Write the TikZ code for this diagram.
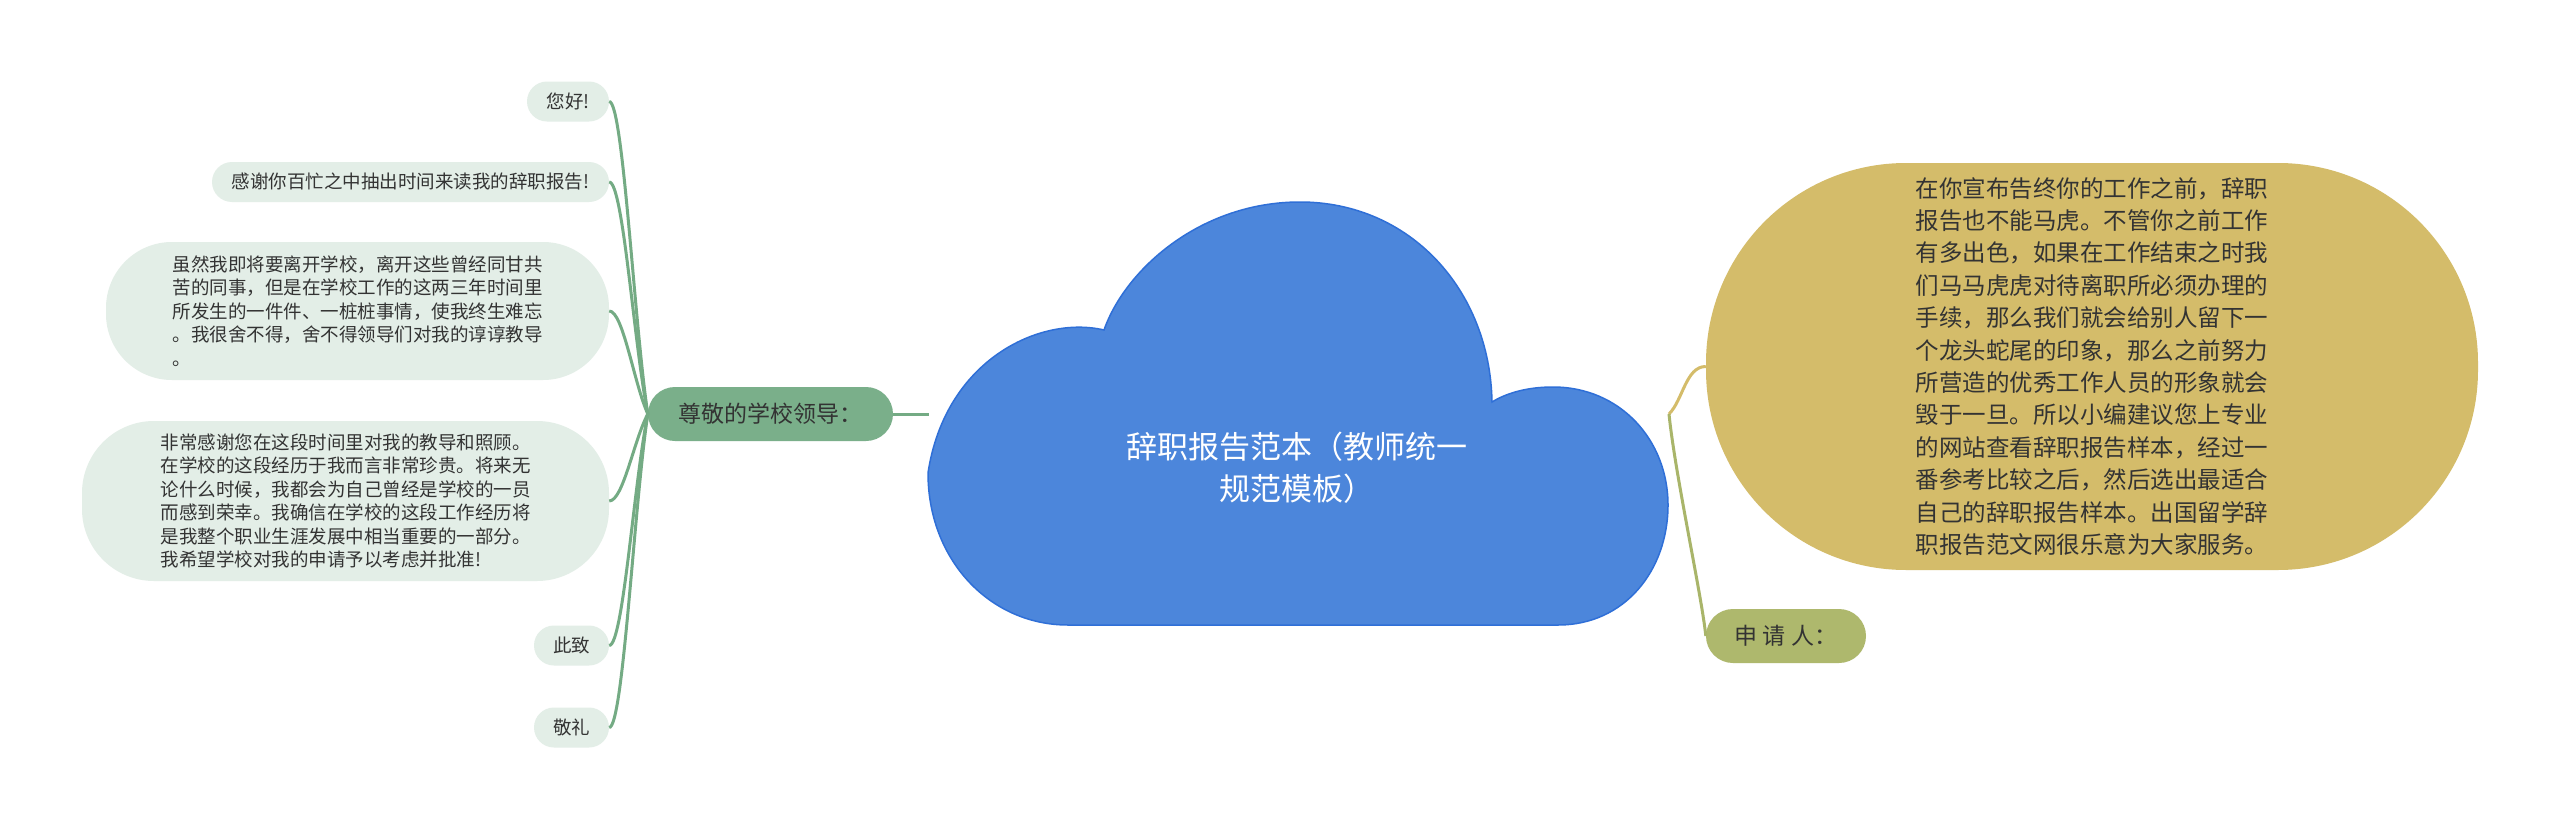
\documentclass[tikz,border=0pt]{standalone}
\usepackage{fontspec}
\setmainfont{Noto Sans CJK SC}
\definecolor{leafbg}{HTML}{E3EEE7}
\definecolor{branchgreen}{HTML}{7AAF8A}
\definecolor{linegreen}{HTML}{74AB84}
\definecolor{goldbg}{HTML}{D4BC6A}
\definecolor{olivebg}{HTML}{AEB86D}
\definecolor{oliveline}{HTML}{A9B56A}
\definecolor{cloudblue}{HTML}{4C86DB}
\definecolor{cloudedge}{HTML}{2F6FD7}
\definecolor{txt}{HTML}{333333}

\begin{document}
\begin{tikzpicture}[x=1pt,y=-1pt,
		leaf/.style={fill=leafbg, text=txt, rounded corners=20pt, minimum height=40pt, inner sep=0pt, align=left, font=\fontsize{18.5pt}{23.4pt}\selectfont},
		branch/.style={fill=branchgreen, text=txt, rounded corners=27pt, minimum height=54pt, inner sep=0pt, font=\fontsize{23pt}{28pt}\selectfont},
		lconn/.style={draw=linegreen, line width=3pt},
		gconn/.style={draw=goldbg, line width=3pt},
		oconn/.style={draw=oliveline, line width=3pt}]
		\path[fill=white] (0,0) rectangle (2560,827);
		\useasboundingbox (0,0) rectangle (2560,827);
		\draw[fill=cloudblue, draw=cloudedge, line width=1.5pt] (1068,625) -- (1558,625)
		.. controls (1625,625) and (1668,570) .. (1668,505)
		.. controls (1668,440) and (1620,387) .. (1553,387)
		.. controls (1525,387) and (1505,394) .. (1492,402)
		.. controls (1490,290) and (1410,202) .. (1300,202)
		.. controls (1200,202) and (1125,270) .. (1104,330)
		.. controls (1040,315) and (945,360) .. (928,473)
		.. controls (928,560) and (990,625) .. (1068,625) -- cycle;
		\node[text=white, align=center, font=\fontsize{31pt}{42pt}\selectfont] (title) at (1297,468) {辞职报告范本（教师统一\\规范模板）};
		\coordinate (cloudW) at (929,414);
		\coordinate (rjoin) at (1669,414);

		\node[branch, minimum width=245pt] (leaders) at (770.5,414) {尊敬的学校领导：};
		\node[leaf, minimum width=82pt] (hello) at (568,101.5) {您好!};
		\node[leaf, minimum width=397pt] (thanks) at (410.5,182) {感谢你百忙之中抽出时间来读我的辞职报告!};
		\node[leaf, minimum width=503pt, minimum height=138pt, rounded corners=66pt] (leave) at (357.5,311) {虽然我即将要离开学校，离开这些曾经同甘共\\苦的同事，但是在学校工作的这两三年时间里\\所发生的一件件、一桩桩事情，使我终生难忘\\。我很舍不得，舍不得领导们对我的谆谆教导\\。};
		\node[leaf, minimum width=527pt, minimum height=160pt, rounded corners=72pt] (grateful) at (345.5,501) {非常感谢您在这段时间里对我的教导和照顾。\\在学校的这段经历于我而言非常珍贵。将来无\\论什么时候，我都会为自己曾经是学校的一员\\而感到荣幸。我确信在学校的这段工作经历将\\是我整个职业生涯发展中相当重要的一部分。\\我希望学校对我的申请予以考虑并批准!};
		\node[leaf, minimum width=75pt] (cizhi) at (571.5,645.5) {此致};
		\node[leaf, minimum width=75pt] (jingli) at (571.5,727.5) {敬礼};

		\node[fill=goldbg, text=txt, rounded corners=200pt, minimum width=772pt, minimum height=407pt, inner sep=0pt, align=left, font=\fontsize{23.5pt}{32.4pt}\selectfont] (advice) at (2092,366.5) {在你宣布告终你的工作之前，辞职\\报告也不能马虎。不管你之前工作\\有多出色，如果在工作结束之时我\\们马马虎虎对待离职所必须办理的\\手续，那么我们就会给别人留下一\\个龙头蛇尾的印象，那么之前努力\\所营造的优秀工作人员的形象就会\\毁于一旦。所以小编建议您上专业\\的网站查看辞职报告样本，经过一\\番参考比较之后，然后选出最适合\\自己的辞职报告样本。出国留学辞\\职报告范文网很乐意为大家服务。};
		\node[branch, fill=olivebg, minimum width=160pt] (applicant) at (1786,636) {申 请 人：};

		\draw[lconn] (leaders.east) -- (cloudW);
		\draw[lconn] (leaders.west) .. controls +(-14,-94) and +(14,0) .. (hello.east);
		\draw[lconn] (leaders.west) .. controls +(-14,-70) and +(14,0) .. (thanks.east);
		\draw[lconn] (leaders.west) .. controls +(-14,-31) and +(14,0) .. (leave.east);
		\draw[lconn] (leaders.west) .. controls +(-14,26) and +(14,0) .. (grateful.east);
		\draw[lconn] (leaders.west) .. controls +(-14,69) and +(14,0) .. (cizhi.east);
		\draw[lconn] (leaders.west) .. controls +(-14,94) and +(14,0) .. (jingli.east);
		\draw[gconn] (rjoin) .. controls +(14,-14) and +(-20,0) .. (advice.west);
		\draw[oconn] (rjoin) .. controls +(6,60) and +(-4,-40) .. (applicant.west);
	\end{tikzpicture}
\end{document}
